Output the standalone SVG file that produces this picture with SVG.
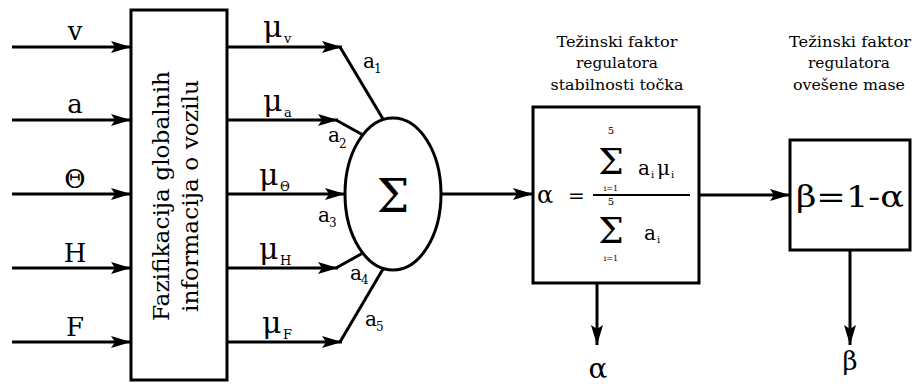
<svg xmlns="http://www.w3.org/2000/svg" width="914" height="384" viewBox="0 0 914 384" font-family="'DejaVu Serif', 'Liberation Serif', serif">
<defs>
<style>
text{font-family:'DejaVu Serif','Liberation Serif',serif;fill:#000}
.ln{stroke:#000;stroke-width:3;fill:none}
.box{stroke:#000;stroke-width:3;fill:#fff}
</style>
<marker id="ah" markerUnits="userSpaceOnUse" markerWidth="20" markerHeight="12" refX="20" refY="6" orient="auto">
<path d="M0,0 L20,6 L0,12 L4,6 z" fill="#000"/>
</marker>
</defs>
<rect width="914" height="384" fill="#fff"/>

<g id="connectors">
<line class="ln" x1="12" y1="47" x2="131" y2="47" marker-end="url(#ah)"/>
<line class="ln" x1="12" y1="120" x2="131" y2="120" marker-end="url(#ah)"/>
<line class="ln" x1="12" y1="194" x2="131" y2="194" marker-end="url(#ah)"/>
<line class="ln" x1="12" y1="268" x2="131" y2="268" marker-end="url(#ah)"/>
<line class="ln" x1="12" y1="342" x2="131" y2="342" marker-end="url(#ah)"/>
<line class="ln" x1="227" y1="47" x2="342" y2="47" marker-end="url(#ah)"/>
<line class="ln" x1="227" y1="120" x2="338" y2="120" marker-end="url(#ah)"/>
<line class="ln" x1="227" y1="194" x2="345" y2="194" marker-end="url(#ah)"/>
<line class="ln" x1="227" y1="268" x2="338" y2="268" marker-end="url(#ah)"/>
<line class="ln" x1="227" y1="342" x2="342" y2="342" marker-end="url(#ah)"/>
<polyline class="ln" points="340,47 383,119"/>
<polyline class="ln" points="336,120 363,135"/>
<polyline class="ln" points="336,268 363,253"/>
<polyline class="ln" points="340,342 383,269"/>
<line class="ln" x1="441" y1="194" x2="533" y2="194" marker-end="url(#ah)"/>
<line class="ln" x1="699" y1="195" x2="790" y2="195" marker-end="url(#ah)"/>
<line class="ln" x1="597" y1="283" x2="597" y2="345" marker-end="url(#ah)"/>
<line class="ln" x1="850" y1="250" x2="850" y2="345" marker-end="url(#ah)"/>
</g>

<g id="inputs" font-size="26" text-anchor="middle">
<text x="75" y="40">v</text>
<text x="75" y="113">a</text>
<text x="75" y="188">Θ</text>
<text x="75" y="262">H</text>
<text x="75" y="336">F</text>
</g>

<g id="fuzzification">
<rect class="box" x="131" y="10" width="96" height="370"/>
<text font-size="22" text-anchor="middle" textLength="250" lengthAdjust="spacingAndGlyphs" transform="translate(169,196) rotate(-90)">Fazifikacija globalnih</text>
<text font-size="22" text-anchor="middle" textLength="232" lengthAdjust="spacingAndGlyphs" transform="translate(198,196) rotate(-90)">informacija o vozilu</text>
</g>

<g id="memberships">
<text x="263" y="37" font-size="30">μ</text><text x="284" y="43" font-size="13">v</text>
<text x="263" y="111" font-size="30">μ</text><text x="284" y="117" font-size="13">a</text>
<text x="259" y="185" font-size="30">μ</text><text x="280" y="191" font-size="12">Θ</text>
<text x="259" y="259" font-size="30">μ</text><text x="280" y="265" font-size="13">H</text>
<text x="262" y="333" font-size="30">μ</text><text x="283" y="339" font-size="13">F</text>
</g>

<g id="weights">
<text x="363" y="68" font-size="20">a</text><text x="374" y="73" font-size="12">1</text>
<text x="328" y="142" font-size="20">a</text><text x="339" y="148" font-size="12">2</text>
<text x="318" y="222" font-size="20">a</text><text x="329" y="227" font-size="12">3</text>
<text x="350" y="280" font-size="20">a</text><text x="361" y="284" font-size="12">4</text>
<text x="365" y="326" font-size="20">a</text><text x="376" y="331" font-size="12">5</text>
</g>

<g id="sum">
<ellipse class="box" cx="393" cy="194" rx="48" ry="76"/>
<text x="393" y="212" font-size="46" text-anchor="middle">Σ</text>
</g>

<g id="alpha-label" font-size="15" text-anchor="middle">
<text x="617" y="47" textLength="121" lengthAdjust="spacingAndGlyphs">Težinski faktor</text>
<text x="617" y="68" textLength="82" lengthAdjust="spacingAndGlyphs">regulatora</text>
<text x="617" y="90" textLength="133" lengthAdjust="spacingAndGlyphs">stabilnosti točka</text>
</g>

<g id="alpha-box">
<rect class="box" x="533" y="107" width="166" height="176"/>
<text x="537" y="203" font-size="24">α</text>
<text x="568" y="203" font-size="20">=</text>
<line x1="593" y1="195" x2="690" y2="195" stroke="#000" stroke-width="2"/>
<text x="611" y="134" font-size="10" text-anchor="middle">5</text>
<text x="611" y="174" font-size="36" text-anchor="middle">Σ</text>
<text x="611" y="191" font-size="8" text-anchor="middle">i=1</text>
<text x="638" y="175" font-size="20">a</text><text x="651" y="178" font-size="10">i</text>
<text x="657" y="175" font-size="20">μ</text><text x="671" y="178" font-size="10">i</text>
<text x="611" y="205" font-size="10" text-anchor="middle">5</text>
<text x="611" y="243" font-size="36" text-anchor="middle">Σ</text>
<text x="611" y="261" font-size="8" text-anchor="middle">i=1</text>
<text x="644" y="240" font-size="20">a</text><text x="657" y="243" font-size="10">i</text>
</g>

<g id="beta-label" font-size="15" text-anchor="middle">
<text x="850" y="47" textLength="122" lengthAdjust="spacingAndGlyphs">Težinski faktor</text>
<text x="849" y="68" textLength="82" lengthAdjust="spacingAndGlyphs">regulatora</text>
<text x="849" y="90" textLength="112" lengthAdjust="spacingAndGlyphs">ovešene mase</text>
</g>

<g id="beta-box">
<rect class="box" x="790" y="140" width="120" height="110"/>
<text x="850" y="207" font-size="30" text-anchor="middle" textLength="108" lengthAdjust="spacingAndGlyphs">β=1-α</text>
</g>

<g id="outputs" font-size="28" text-anchor="middle">
<text x="598" y="378">α</text>
<text x="850" y="370" font-size="26">β</text>
</g>
</svg>
